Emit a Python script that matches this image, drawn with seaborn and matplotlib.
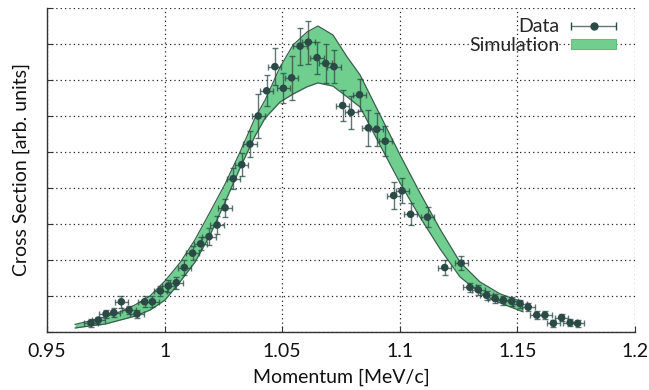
import matplotlib
matplotlib.use("Agg")
import matplotlib.pyplot as plt
import pandas as pd
import seaborn as sns
from matplotlib.patches import Patch
from matplotlib.container import ErrorbarContainer
from matplotlib.legend_handler import HandlerErrorbar

momentum = [0.9687, 0.9718, 0.9751, 0.9784, 0.9816, 0.9849, 0.9883, 0.9915, 0.9948, 0.9982,
            1.0016, 1.0050, 1.0084, 1.0119, 1.0153, 1.0189, 1.0223, 1.0257, 1.0292, 1.0328,
            1.0363, 1.0398, 1.0434, 1.0469, 1.0505, 1.0540, 1.0576, 1.0611, 1.0648, 1.0685,
            1.0720, 1.0757, 1.0793, 1.0829, 1.0866, 1.0902, 1.0938, 1.0974, 1.1010, 1.1046,
            1.1118, 1.1191, 1.1261, 1.1298, 1.1334, 1.1369, 1.1405, 1.1440, 1.1476, 1.1511,
            1.1546, 1.1582, 1.1617, 1.1653, 1.1688, 1.1724, 1.1756]
cross_section = [0.25, 0.33, 0.50, 0.54, 0.84, 0.61, 0.50, 0.84, 0.84, 1.14,
                 1.28, 1.37, 1.79, 2.19, 2.45, 2.65, 2.97, 3.45, 4.26, 4.65,
                 5.22, 6.00, 6.70, 7.37, 6.77, 7.06, 7.94, 8.05, 7.62, 7.46,
                 7.37, 6.29, 6.10, 6.59, 5.67, 5.63, 5.30, 3.79, 3.92, 3.27,
                 3.19, 1.79, 1.91, 1.24, 1.17, 1.02, 0.93, 0.88, 0.85, 0.79,
                 0.69, 0.47, 0.47, 0.24, 0.40, 0.26, 0.24]
cross_section_err = [0.10, 0.10, 0.12, 0.12, 0.17, 0.12, 0.12, 0.15, 0.15, 0.15,
                     0.17, 0.17, 0.20, 0.20, 0.18, 0.23, 0.26, 0.25, 0.29, 0.31,
                     0.37, 0.61, 0.43, 0.51, 0.42, 0.62, 0.51, 0.60, 0.44, 0.53,
                     0.45, 0.44, 0.45, 0.44, 0.50, 0.45, 0.42, 0.37, 0.35, 0.30,
                     0.28, 0.21, 0.19, 0.13, 0.13, 0.12, 0.12, 0.12, 0.12, 0.11,
                     0.11, 0.10, 0.10, 0.09, 0.10, 0.09, 0.09]
MOMENTUM_ERR = 0.0028

# Simulation band
sim_momentum = [0.9619, 0.9683, 0.9747, 0.9810, 0.9874, 0.9938, 1.0002, 1.0065, 1.0129, 1.0193,
                1.0257, 1.0321, 1.0384, 1.0427, 1.0491, 1.0546, 1.0605, 1.0652, 1.0716, 1.0776,
                1.0831, 1.0916, 1.1001, 1.1086, 1.1171, 1.1256, 1.1341, 1.1426, 1.1524]
sim_upper = [0.21, 0.31, 0.42, 0.56, 0.75, 1.00, 1.42, 1.92, 2.56, 3.33,
             4.11, 5.00, 5.94, 6.44, 7.36, 7.97, 8.33, 8.50, 8.25, 7.64,
             7.14, 6.03, 4.92, 3.86, 2.86, 1.94, 1.39, 1.06, 0.83]
sim_lower = [0.11, 0.17, 0.22, 0.33, 0.44, 0.61, 0.89, 1.39, 1.94, 2.69,
             3.61, 4.56, 5.44, 5.94, 6.39, 6.61, 6.81, 6.92, 6.83, 6.53,
             6.25, 5.19, 4.14, 3.19, 2.31, 1.53, 1.08, 0.81, 0.56]

x_ticks = [0.95, 1.0, 1.05, 1.1, 1.15, 1.2]
x_tick_labels = ["0.95", "1", "1.05", "1.1", "1.15", "1.2"]
y_ticks = [0, 1, 2, 3, 4, 5, 6, 7, 8, 9]

DATA_COLOR = "#2b4a46"
BAND_COLOR = "#70cf8f"
BAND_EDGE = "#3b5f50"
FONT_SIZE = 14

sns.set_theme(style="white")
plt.rcParams["font.family"] = ["Lato", "DejaVu Sans"]

data = pd.DataFrame({"p": momentum, "xs": cross_section, "err": cross_section_err})
sim = pd.DataFrame({"p": sim_momentum, "hi": sim_upper, "lo": sim_lower})

fig = plt.figure(figsize=(6.49, 3.90), dpi=100)
ax = fig.add_axes([47 / 649, 1 - 332 / 390, 588 / 649, 324 / 390])

# Simulation band
ax.fill_between(sim["p"], sim["lo"], sim["hi"], color=BAND_COLOR, lw=0, zorder=2)
sns.lineplot(data=sim, x="p", y="hi", ax=ax, color=BAND_EDGE, lw=0.9, zorder=3, sort=False)
sns.lineplot(data=sim, x="p", y="lo", ax=ax, color=BAND_EDGE, lw=0.9, zorder=3, sort=False)

# Data with error bars
ax.errorbar(data["p"], data["xs"], yerr=data["err"], fmt="none", ecolor=DATA_COLOR,
            elinewidth=1.0, capsize=2.5, capthick=1.0, alpha=0.75, zorder=4)
xbars = ax.errorbar(data["p"], data["xs"], xerr=MOMENTUM_ERR, fmt="none", ecolor=DATA_COLOR,
                    elinewidth=1.0, capsize=2.5, capthick=1.0, alpha=0.75, zorder=4)
sns.scatterplot(data=data, x="p", y="xs", ax=ax, color=DATA_COLOR, s=30,
                edgecolor="none", zorder=5)

ax.set_xlim(0.95, 1.2)
ax.set_ylim(0, 9)
ax.set_xticks(x_ticks)
ax.set_xticklabels(x_tick_labels)
ax.set_yticks(y_ticks)
ax.set_yticklabels([])
ax.tick_params(axis="both", direction="in", length=4, width=0.8, color="#333333",
               labelsize=FONT_SIZE, labelcolor="#111111", bottom=True, left=True)
ax.tick_params(axis="x", pad=8)

ax.grid(True, linestyle=(0, (1, 2.5)), color="#222222", lw=0.9)
ax.set_axisbelow(True)
for side in ["top", "right"]:
    ax.spines[side].set_visible(False)
for side in ["left", "bottom"]:
    ax.spines[side].set_color("#333333")
    ax.spines[side].set_linewidth(1.0)

ax.set_xlabel("Momentum [MeV/c]", fontsize=FONT_SIZE, color="#111111", labelpad=6)
ax.set_ylabel("Cross Section [arb. units]", fontsize=FONT_SIZE, color="#111111", labelpad=9)

# Legend: text on the left, sample on the right
marker_line = plt.Line2D([], [], color=DATA_COLOR, marker="o", ms=5, ls="none")
cap_lines = [plt.Line2D([], [], color=DATA_COLOR, marker="|", ms=6)]
bar_lines = [xbars.lines[2][0]]
legend_bar = ErrorbarContainer((marker_line, cap_lines, bar_lines),
                               has_xerr=True, has_yerr=False)
band_handle = Patch(facecolor=BAND_COLOR, edgecolor="#5cbf7d", lw=0.8)
leg = ax.legend([legend_bar, band_handle], ["Data", "Simulation"], loc="upper right",
                bbox_to_anchor=(0.968, 0.97), frameon=False, markerfirst=False,
                fontsize=FONT_SIZE, handlelength=2.3, handleheight=0.45, handletextpad=0.6,
                labelspacing=0.1, borderpad=0, borderaxespad=0,
                handler_map={ErrorbarContainer: HandlerErrorbar(xerr_size=1.15)})

fig.savefig("out.png", dpi=100)
